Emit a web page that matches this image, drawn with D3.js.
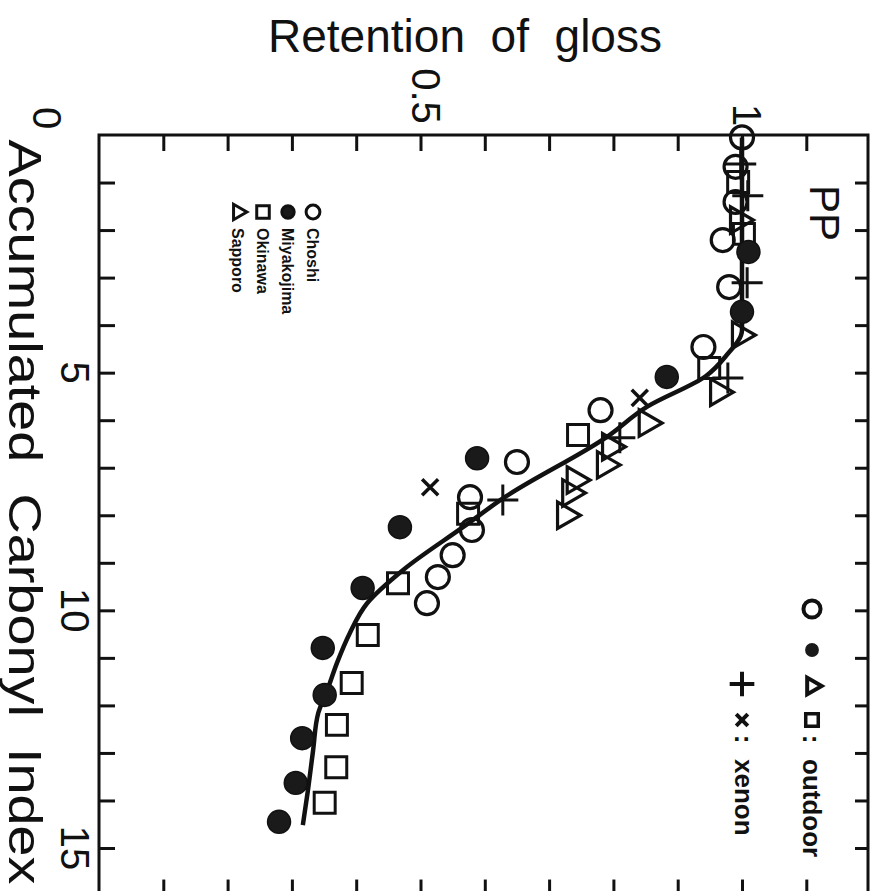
<!DOCTYPE html>
<html>
<head>
<meta charset="utf-8">
<script src="https://cdn.jsdelivr.net/npm/d3@7/dist/d3.min.js"></script>
<style>
  body { margin: 0; background: #fff; }
  svg { display: block; }
  text { font-family: "Liberation Sans", Arial, sans-serif; fill: #111; }
</style>
</head>
<body>
<div id="chart"></div>
<script>
// carbonyl index (x of the original chart) / retention of gloss (y)
var choshiC = [0.05, 0.67, 1.41, 2.21, 3.2, 4.46, 5.79, 6.88, 7.62, 8.31, 8.84, 9.30, 9.85]
var choshiR = [1.0, 0.99, 0.99, 0.97, 0.98, 0.94, 0.78, 0.65, 0.577, 0.58, 0.55, 0.527, 0.51]

var miyakoC = [2.46, 3.72, 5.09, 6.80, 8.25, 9.53, 10.79, 11.78, 12.69, 13.63, 14.45]
var miyakoR = [1.01, 1.0, 0.883, 0.588, 0.468, 0.41, 0.348, 0.351, 0.316, 0.306, 0.28]

var okinawaC = [0.99, 2.08, 4.90, 6.31, 7.97, 9.43, 10.52, 11.53, 12.41, 13.30, 14.05]
var okinawaR = [0.994, 1.003, 0.949, 0.745, 0.574, 0.465, 0.418, 0.393, 0.37, 0.369, 0.351]

var sapporoC = [1.79, 4.21, 5.41, 6.06, 6.56, 6.94, 7.26, 7.53, 8.0]
var sapporoR = [0.994, 0.997, 0.963, 0.852, 0.795, 0.787, 0.74, 0.733, 0.725]

var xenonPlusC = [0.61, 1.28, 3.11, 5.11, 6.37, 7.68]
var xenonPlusR = [0.998, 1.009, 1.008, 0.978, 0.81, 0.628]

var xenonTimesC = [5.53, 7.41]
var xenonTimesR = [0.841, 0.515]

// fitted curve
var fitC = [0.05, 1, 2, 3, 4.1, 4.65, 5.07, 5.72, 6.35, 7.62, 8.25, 9.15, 9.85, 10.48, 11.11, 11.68, 12.16, 12.94, 13.78, 14.52]
var fitR = [1.0, 1.0, 1.0, 1.0, 1.0, 0.975, 0.944, 0.852, 0.79, 0.631, 0.566, 0.473, 0.417, 0.39, 0.37, 0.355, 0.341, 0.333, 0.325, 0.317]

var retentionTicks = [0.1, 0.2, 0.3, 0.4, 0.5, 0.6, 0.7, 0.8, 0.9, 1.0, 1.1]
var carbonylTicks = [1, 2, 3, 4, 5, 6, 7, 8, 9, 10, 11, 12, 13, 14, 15]
var retentionLabels = [0.5, 1]
var carbonylLabels = [5, 10, 15]
var sites = ['Choshi', 'Miyakojima', 'Okinawa', 'Sapporo']

var W = 880, H = 891
var svg = d3.select('#chart').append('svg').attr('width', W).attr('height', H)

// chart is drawn turned a quarter clockwise: retention runs left->right, carbonyl top->bottom
var xs = d3.scaleLinear().domain([0, 1]).range([99, 742])
var cs = d3.scaleLinear().domain([0, 15]).range([135, 848])
var frameL = 99, frameR = 868, frameT = 135, frameB = cs(16)
var ink = '#111'
var tickLen = 16

function noDomain(g) {
    g.select('.domain').remove()
    g.selectAll('.tick line').attr('stroke-width', 3)
}
svg.append('g').attr('color', ink).attr('transform', 'translate(0,' + frameT + ')')
    .call(d3.axisTop(xs).tickValues(retentionTicks).tickSizeInner(-tickLen).tickSizeOuter(0).tickFormat(''))
    .call(noDomain)
svg.append('g').attr('color', ink).attr('transform', 'translate(0,' + frameB + ')')
    .call(d3.axisBottom(xs).tickValues(retentionTicks).tickSizeInner(-tickLen).tickSizeOuter(0).tickFormat(''))
    .call(noDomain)
svg.append('g').attr('color', ink).attr('transform', 'translate(' + frameL + ',0)')
    .call(d3.axisLeft(cs).tickValues(carbonylTicks).tickSizeInner(-tickLen).tickSizeOuter(0).tickFormat(''))
    .call(noDomain)
svg.append('g').attr('color', ink).attr('transform', 'translate(' + frameR + ',0)')
    .call(d3.axisRight(cs).tickValues(carbonylTicks).tickSizeInner(-13).tickSizeOuter(0).tickFormat(''))
    .call(noDomain)

svg.append('rect').attr('x', frameL).attr('y', frameT).attr('width', frameR - frameL).attr('height', frameB - frameT)
    .attr('fill', 'none').attr('stroke', ink).attr('stroke-width', 3)

// rotated text helper: glyph tops face right, reads downward
function vtext(x, y, str, size, anchor, weight) {
    return svg.append('text')
        .attr('transform', 'translate(' + x + ',' + y + ') rotate(90)')
        .attr('text-anchor', anchor || 'middle')
        .attr('font-size', size)
        .attr('font-weight', weight || 'normal')
        .text(str)
}

// titles
svg.append('text').attr('x', 465).attr('y', 52).attr('text-anchor', 'middle')
    .attr('font-size', 46).style('white-space', 'pre')
    .attr('textLength', 394).attr('lengthAdjust', 'spacingAndGlyphs')
    .text('Retention  of  gloss')
vtext(9, 512, 'Accumulated  Carbonyl  Index', 46).style('white-space', 'pre')
    .attr('textLength', 745).attr('lengthAdjust', 'spacingAndGlyphs')

// tick labels
vtext(33, 118, '0', 40)
retentionLabels.forEach(function (v) {
    vtext(xs(v) - 9, v === 1 ? 115 : 96, String(v), 40)
})
carbonylLabels.forEach(function (v) {
    vtext(61, cs(v), String(v), 40)
})

vtext(810, 185, 'PP', 42, 'start')

// markers
var sym = {
    circle: d3.symbol().type(d3.symbolCircle).size(415),
    square: d3.symbol().type(d3.symbolSquare2).size(560),
    tri: d3.symbol().type(d3.symbolTriangle2).size(500),
    plus: d3.symbol().type(d3.symbolPlus).size(316),
    times: d3.symbol().type(d3.symbolTimes).size(170)
}
function drawSeries(cArr, rArr, path, filled, rot, sw) {
    svg.append('g').selectAll('path').data(cArr).join('path')
        .attr('d', path)
        .attr('transform', function (d, i) {
            return 'translate(' + xs(rArr[i]) + ',' + cs(d) + ')' + (rot ? ' rotate(90)' : '')
        })
        .attr('fill', filled ? '#1a1a1a' : 'none')
        .attr('stroke', ink)
        .attr('stroke-width', sw || 3)
}

var fit = d3.line()
    .x(function (d, i) { return xs(fitR[i]) })
    .y(function (d) { return cs(d) })
    .curve(d3.curveMonotoneY)
svg.append('path').attr('d', fit(fitC)).attr('fill', 'none').attr('stroke', ink).attr('stroke-width', 4.5)

drawSeries(okinawaC, okinawaR, sym.square(), false, false, 3)
drawSeries(sapporoC, sapporoR, sym.tri(), false, true, 3.2)
drawSeries(choshiC, choshiR, sym.circle(), false, false, 3.2)
drawSeries(miyakoC, miyakoR, sym.circle(), true, false, 1.5)
drawSeries(xenonPlusC, xenonPlusR, sym.plus(), false, false, 3)
drawSeries(xenonTimesC, xenonTimesR, sym.times(), false, false, 3.5)

// legend inside the plot: one column per site
var legX = [313, 288, 263, 238]
var legSym = [
    {p: d3.symbol().type(d3.symbolCircle).size(150)(), fill: false, rot: false},
    {p: d3.symbol().type(d3.symbolCircle).size(120)(), fill: true, rot: false},
    {p: d3.symbol().type(d3.symbolSquare2).size(200)(), fill: false, rot: false},
    {p: d3.symbol().type(d3.symbolTriangle2).size(170)(), fill: false, rot: true}
]
sites.forEach(function (s, i) {
    svg.append('path').attr('d', legSym[i].p)
        .attr('transform', 'translate(' + legX[i] + ',212)' + (legSym[i].rot ? ' rotate(90)' : ''))
        .attr('fill', legSym[i].fill ? '#1a1a1a' : 'none')
        .attr('stroke', ink).attr('stroke-width', 3)
    vtext(legX[i] - 6, 228, s, 16, 'start', 'bold')
})

// legend top right: outdoor / xenon
var outY = [609, 650, 686, 720]
svg.append('path').attr('d', d3.symbol().type(d3.symbolCircle).size(230)())
    .attr('transform', 'translate(812,' + outY[0] + ')').attr('fill', 'none').attr('stroke', ink).attr('stroke-width', 4)
svg.append('path').attr('d', d3.symbol().type(d3.symbolCircle).size(150)())
    .attr('transform', 'translate(812,' + outY[1] + ')').attr('fill', '#1a1a1a')
svg.append('path').attr('d', d3.symbol().type(d3.symbolTriangle2).size(200)())
    .attr('transform', 'translate(812,' + outY[2] + ') rotate(90)').attr('fill', 'none').attr('stroke', ink).attr('stroke-width', 4)
svg.append('path').attr('d', d3.symbol().type(d3.symbolSquare2).size(200)())
    .attr('transform', 'translate(812,' + outY[3] + ')').attr('fill', 'none').attr('stroke', ink).attr('stroke-width', 3.5)
vtext(803, 739, ':', 26, 'middle', 'bold')
vtext(803, 759, 'outdoor', 26, 'start', 'bold')

svg.append('path').attr('d', d3.symbol().type(d3.symbolPlus).size(200)())
    .attr('transform', 'translate(742,684)').attr('fill', 'none').attr('stroke', ink).attr('stroke-width', 4)
svg.append('path').attr('d', d3.symbol().type(d3.symbolTimes).size(90)())
    .attr('transform', 'translate(742,720)').attr('fill', 'none').attr('stroke', ink).attr('stroke-width', 4)
vtext(735, 739, ':', 26, 'middle', 'bold')
vtext(735, 759, 'xenon', 26, 'start', 'bold')
</script>
</body>
</html>
